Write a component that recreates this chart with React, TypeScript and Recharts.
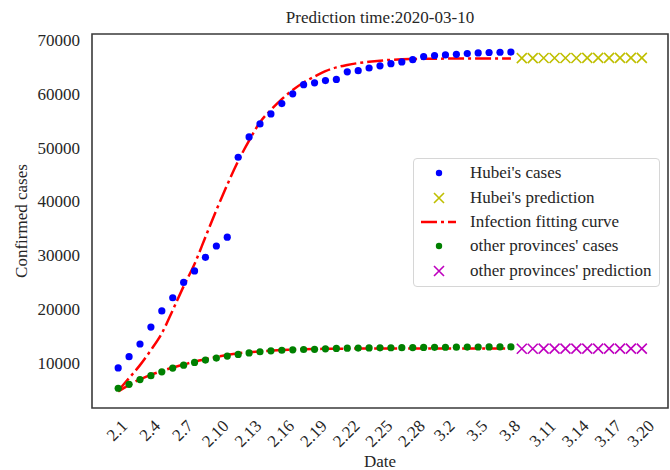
import { ComposedChart, Line, Scatter, XAxis, YAxis, ReferenceArea } from "recharts";

// date labels, one per day (index on the x axis)
const dates = [
  "2.1", "2.2", "2.3", "2.4", "2.5", "2.6", "2.7", "2.8", "2.9", "2.10",
  "2.11", "2.12", "2.13", "2.14", "2.15", "2.16", "2.17", "2.18", "2.19", "2.20",
  "2.21", "2.22", "2.23", "2.24", "2.25", "2.26", "2.27", "2.28", "2.29", "3.1",
  "3.2", "3.3", "3.4", "3.5", "3.6", "3.7", "3.8", "3.9", "3.10", "3.11",
  "3.12", "3.13", "3.14", "3.15", "3.16", "3.17", "3.18", "3.19", "3.20",
];
const xTicks = [0, 3, 6, 9, 12, 15, 18, 21, 24, 27, 30, 33, 36, 39, 42, 45, 48];
const yTicks = [10000, 20000, 30000, 40000, 50000, 60000, 70000];

const hubeiCases = [
  9074, 11177, 13522, 16678, 19665, 22112, 24953, 27100, 29631, 31728,
  33366, 48206, 51986, 54406, 56249, 58182, 59989, 61682, 62031, 62442,
  62662, 64084, 64287, 64786, 65187, 65596, 65914, 66337, 66907, 67103,
  67217, 67332, 67466, 67592, 67666, 67707, 67743,
];
const otherCases = [
  5306, 6028, 6916, 7646, 8353, 9049, 9593, 10098, 10540, 10910,
  11287, 11598, 11865, 12086, 12251, 12366, 12447, 12503, 12545, 12635,
  12705, 12750, 12770, 12790, 12810, 12830, 12850, 12870, 12890, 12910,
  12925, 12940, 12955, 12965, 12975, 12985, 12992,
];
const hubeiFit = [
  4850, 7200, 9600, 12400, 15500, 19800, 24250, 28400, 33400, 38400,
  43100, 47500, 51300, 54700, 57000, 59000, 60700, 62100, 63200, 64200,
  64900, 65350, 65700, 65950, 66150, 66300, 66400, 66460, 66500, 66520,
  66530, 66540, 66545, 66550, 66555, 66558, 66560,
];
const otherFit = [
  4700, 5950, 6950, 7800, 8500, 9150, 9700, 10250, 10700, 11100,
  11500, 11800, 12000, 12150, 12300, 12420, 12500, 12560, 12600, 12630,
  12650, 12665, 12675, 12680, 12685, 12690, 12692, 12694, 12696, 12698,
  12700, 12700, 12700, 12700, 12700, 12700, 12700,
];
const hubeiPred = [66620, 66630, 66640, 66645, 66650, 66650, 66655, 66655, 66660, 66660, 66660, 66660];
const otherPred = [12650, 12655, 12660, 12660, 12665, 12665, 12665, 12670, 12670, 12670, 12670, 12670];
const predStart = hubeiCases.length;

const FONT = "'Liberation Serif', 'Times New Roman', Times, serif";
const TXT = "#262626";

const toPoints = (vals: number[], start = 0) => vals.map((y, i) => ({ x: start + i, y }));

const DateTick = (props: any) => {
  const { x, y, payload } = props;
  const label = dates[payload.value] ?? "";
  const w = label.length * 8.5 - 4.25;
  const half = (w + 11.5) / 2.83;
  const cx = x - 1;
  const cy = y + 11 + half;
  return (
    <text x={cx} y={cy} textAnchor="middle" dominantBaseline="central"
      transform={`rotate(-45 ${cx} ${cy})`} fill={TXT} style={{ fontSize: 17, fontFamily: FONT }}>
      {label}
    </text>
  );
};

const dot = (color: string) => (p: any) => <circle cx={p.cx} cy={p.cy} r={3.6} fill={color} />;
const cross = (color: string) => (p: any) => (
  <path d={`M${p.cx - 5},${p.cy - 5}L${p.cx + 5},${p.cy + 5}M${p.cx - 5},${p.cy + 5}L${p.cx + 5},${p.cy - 5}`}
    stroke={color} strokeWidth={1.6} fill="none" />
);

const legend = [
  { name: "Hubei's cases", kind: "dot", color: "#0000ff" },
  { name: "Hubei's prediction", kind: "x", color: "#bfbf00" },
  { name: "Infection fitting curve", kind: "line", color: "#ff0000" },
  { name: "other provinces' cases", kind: "dot", color: "#008000" },
  { name: "other provinces' prediction", kind: "x", color: "#bf00bf" },
];

const textStyle = { fontSize: 17, fontFamily: FONT };

export default function App() {
  return (
    <div style={{ position: "absolute", left: 0, top: 0, width: 670, height: 470, background: "#fff", fontFamily: FONT }}>
      <div style={{ position: "absolute", left: 92, top: 1, width: 576, textAlign: "center", fontSize: 17, lineHeight: "34px", color: TXT }}>
        Prediction time:2020-03-10
      </div>
      <ComposedChart width={670} height={470} margin={{ top: 34, right: 2, bottom: 0, left: 0 }} style={{ fontFamily: FONT }}>
        <XAxis type="number" dataKey="x" domain={[-2.4, 50.4]} ticks={xTicks} interval={0}
          axisLine={false} tickLine={false} tickSize={0} tickMargin={0} height={62}
          tick={<DateTick />}
          label={{ value: "Date", position: "insideBottom", offset: 3, fill: TXT, style: textStyle }} />
        <YAxis type="number" dataKey="y" domain={[1640, 71100]} ticks={yTicks} allowDataOverflow
          axisLine={false} tickLine={false} tickSize={0} tickMargin={12} width={92}
          tick={{ fill: TXT, style: textStyle }}
          label={{ value: "Confirmed cases", angle: -90, position: "insideLeft", offset: 21, fill: TXT, style: { ...textStyle, textAnchor: "middle" } }} />
        <Scatter data={toPoints(hubeiCases)} shape={dot("#0000ff")} isAnimationActive={false} />
        <Scatter data={toPoints(hubeiPred, predStart)} shape={cross("#bfbf00")} isAnimationActive={false} />
        <Line data={toPoints(hubeiFit)} dataKey="y" type="monotone" stroke="#ff0000" strokeWidth={2.5}
          strokeDasharray="16 4 3 4" dot={false} activeDot={false} isAnimationActive={false} />
        <Line data={toPoints(otherFit)} dataKey="y" type="monotone" stroke="#ff0000" strokeWidth={2.5}
          strokeDasharray="16 4 3 4" dot={false} activeDot={false} isAnimationActive={false} />
        <Scatter data={toPoints(otherCases)} shape={dot("#008000")} isAnimationActive={false} />
        <Scatter data={toPoints(otherPred, predStart)} shape={cross("#bf00bf")} isAnimationActive={false} />
        <ReferenceArea x1={-2.4} x2={50.4} y1={1640} y2={71100} fill="none" stroke="#3a3a3a" strokeWidth={1.6} ifOverflow="visible" />
      </ComposedChart>
      <div style={{ position: "absolute", left: 413, top: 158, width: 245, height: 125, border: "1px solid #d6d6d6", borderRadius: 4, background: "rgba(255,255,255,0.85)", paddingTop: 2, boxSizing: "content-box" }}>
        {legend.map((item) => (
          <div key={item.name} style={{ display: "flex", alignItems: "center", height: 24.4 }}>
            <svg width={56} height={24} style={{ flex: "none" }}>
              {item.kind === "dot" && <circle cx={25} cy={12} r={3.2} fill={item.color} />}
              {item.kind === "x" && (
                <path d="M20,7L30,17M20,17L30,7" stroke={item.color} strokeWidth={1.6} fill="none" />
              )}
              {item.kind === "line" && (
                <line x1={7} y1={12} x2={42} y2={12} stroke={item.color} strokeWidth={2.5} strokeDasharray="16 4 3 4" />
              )}
            </svg>
            <span style={{ fontSize: 17, color: TXT, whiteSpace: "nowrap" }}>{item.name}</span>
          </div>
        ))}
      </div>
    </div>
  );
}
